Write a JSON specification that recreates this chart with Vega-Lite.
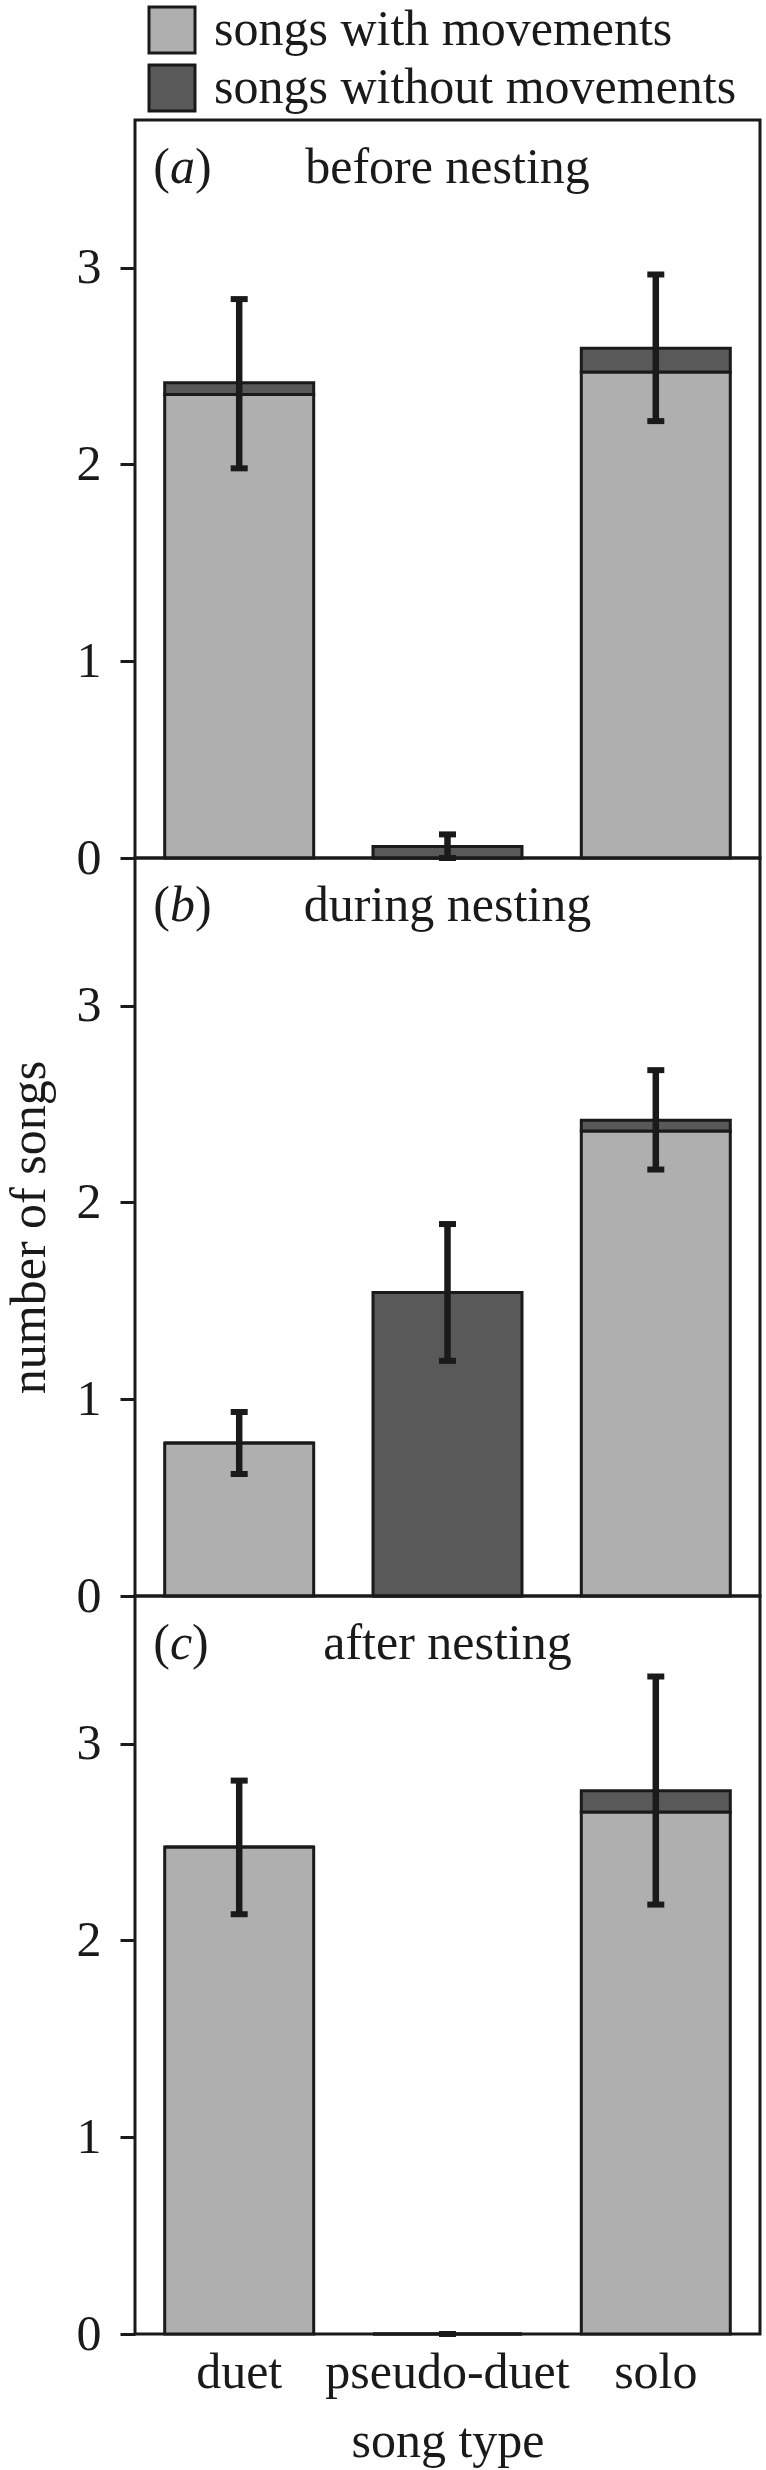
{
  "$schema": "https://vega.github.io/schema/vega-lite/v6.json",
  "padding": {"left": 2, "top": 5, "right": 0, "bottom": 0},
  "spacing": 0,
  "bounds": "flush",
  "config": {
    "font": "Liberation Serif",
    "view": {"stroke": "#1a1a1a", "strokeWidth": 3},
    "axis": {
      "labelFont": "Liberation Serif", "titleFont": "Liberation Serif",
      "labelFontSize": 50, "titleFontSize": 50,
      "labelColor": "#1a1a1a", "titleColor": "#1a1a1a",
      "titleFontWeight": "normal", "grid": false, "domain": false,
      "tickColor": "#1a1a1a", "tickWidth": 3, "tickSize": 15
    },
    "text": {"font": "Liberation Serif", "fontSize": 50, "color": "#1a1a1a"}
  },
  "datasets": {
    "bars": [
      {"panel": "a", "song": "duet", "type": "songs with movements", "value": 2.355},
      {"panel": "a", "song": "duet", "type": "songs without movements", "value": 0.06},
      {"panel": "a", "song": "pseudo-duet", "type": "songs with movements", "value": 0},
      {"panel": "a", "song": "pseudo-duet", "type": "songs without movements", "value": 0.059},
      {"panel": "a", "song": "solo", "type": "songs with movements", "value": 2.47},
      {"panel": "a", "song": "solo", "type": "songs without movements", "value": 0.12},
      {"panel": "b", "song": "duet", "type": "songs with movements", "value": 0.777},
      {"panel": "b", "song": "duet", "type": "songs without movements", "value": 0},
      {"panel": "b", "song": "pseudo-duet", "type": "songs with movements", "value": 0},
      {"panel": "b", "song": "pseudo-duet", "type": "songs without movements", "value": 1.542},
      {"panel": "b", "song": "solo", "type": "songs with movements", "value": 2.363},
      {"panel": "b", "song": "solo", "type": "songs without movements", "value": 0.054},
      {"panel": "c", "song": "duet", "type": "songs with movements", "value": 2.474},
      {"panel": "c", "song": "duet", "type": "songs without movements", "value": 0},
      {"panel": "c", "song": "pseudo-duet", "type": "songs with movements", "value": 0},
      {"panel": "c", "song": "pseudo-duet", "type": "songs without movements", "value": 0},
      {"panel": "c", "song": "solo", "type": "songs with movements", "value": 2.653},
      {"panel": "c", "song": "solo", "type": "songs without movements", "value": 0.107}
    ],
    "errs": [
      {"panel": "a", "song": "duet", "low": 1.98, "high": 2.84},
      {"panel": "a", "song": "pseudo-duet", "low": 0.0, "high": 0.12},
      {"panel": "a", "song": "solo", "low": 2.22, "high": 2.965},
      {"panel": "b", "song": "duet", "low": 0.62, "high": 0.935},
      {"panel": "b", "song": "pseudo-duet", "low": 1.195, "high": 1.89},
      {"panel": "b", "song": "solo", "low": 2.167, "high": 2.672},
      {"panel": "c", "song": "duet", "low": 2.133, "high": 2.812},
      {"panel": "c", "song": "pseudo-duet", "low": 0, "high": 0},
      {"panel": "c", "song": "solo", "low": 2.182, "high": 3.341}
    ],
    "labels": [
      {"panel": "a", "letter": "a", "phase": "before nesting"},
      {"panel": "b", "letter": "b", "phase": "during nesting"},
      {"panel": "c", "letter": "c", "phase": "after nesting"}
    ]
  },
  "vconcat": [
    {
      "width": 625, "height": 738,
      "encoding": {
        "x": {"field": "song", "type": "nominal", "sort": ["duet", "pseudo-duet", "solo"],
              "scale": {"domain": ["duet", "pseudo-duet", "solo"], "paddingInner": 0.2847, "paddingOuter": 0.1426},
              "axis": null}
      },
      "layer": [
        {
          "data": {"name": "bars"},
          "transform": [{"filter": "datum.panel === 'a'"}],
          "mark": {"type": "bar", "stroke": "#1a1a1a", "strokeWidth": 3},
          "encoding": {
            "y": {"field": "value", "type": "quantitative", "stack": "zero",
                  "scale": {"domain": [0, 3.75], "nice": false},
                  "axis": {"values": [0, 1, 2, 3], "format": "d", "title": null, "labelPadding": 19}},
            "color": {"field": "type", "type": "nominal",
                      "scale": {"domain": ["songs with movements", "songs without movements"], "range": ["#afafaf", "#595959"]},
                      "legend": {"orient": "none", "legendX": 12, "legendY": -115, "direction": "vertical", "title": null,
                                 "symbolType": "square", "symbolSize": 2116, "symbolStrokeColor": "#1a1a1a", "symbolStrokeWidth": 3,
                                 "symbolOpacity": 1, "labelFontSize": 50, "labelFont": "Liberation Serif", "labelColor": "#1a1a1a",
                                 "labelOffset": 17, "labelLimit": 0, "rowPadding": 0, "padding": 0}},
            "order": {"field": "type", "sort": "ascending"}
          }
        },
        {
          "data": {"name": "errs"},
          "transform": [{"filter": "datum.panel === 'a'"}],
          "mark": {"type": "rule", "strokeWidth": 6.5, "color": "#1a1a1a"},
          "encoding": {"y": {"field": "low", "type": "quantitative"}, "y2": {"field": "high"}}
        },
        {
          "data": {"name": "errs"},
          "transform": [{"filter": "datum.panel === 'a'"}],
          "mark": {"type": "tick", "size": 17, "thickness": 6, "color": "#1a1a1a", "opacity": 1},
          "encoding": {"y": {"field": "low", "type": "quantitative"}}
        },
        {
          "data": {"name": "errs"},
          "transform": [{"filter": "datum.panel === 'a'"}],
          "mark": {"type": "tick", "size": 17, "thickness": 6, "color": "#1a1a1a", "opacity": 1},
          "encoding": {"y": {"field": "high", "type": "quantitative"}}
        },
        {
          "data": {"name": "labels"},
          "transform": [{"filter": "datum.panel === 'a'"}],
          "mark": {"type": "text", "text": "(", "align": "left", "baseline": "alphabetic", "dx": -86},
          "encoding": {"x": {"datum": "duet", "type": "nominal", "axis": null}, "y": {"datum": 3.43, "type": "quantitative"}}
        },
        {
          "data": {"name": "labels"},
          "transform": [{"filter": "datum.panel === 'a'"}],
          "mark": {"type": "text", "fontStyle": "italic", "align": "left", "baseline": "alphabetic", "dx": -69.3},
          "encoding": {"x": {"datum": "duet", "type": "nominal", "axis": null}, "y": {"datum": 3.43, "type": "quantitative"}, "text": {"field": "letter"}}
        },
        {
          "data": {"name": "labels"},
          "transform": [{"filter": "datum.panel === 'a'"}],
          "mark": {"type": "text", "text": ")", "align": "left", "baseline": "alphabetic", "dx": -44.3},
          "encoding": {"x": {"datum": "duet", "type": "nominal", "axis": null}, "y": {"datum": 3.43, "type": "quantitative"}}
        },
        {
          "data": {"name": "labels"},
          "transform": [{"filter": "datum.panel === 'a'"}],
          "mark": {"type": "text", "align": "center", "baseline": "alphabetic"},
          "encoding": {"x": {"datum": "pseudo-duet", "type": "nominal", "axis": null}, "y": {"datum": 3.43, "type": "quantitative"}, "text": {"field": "phase"}}
        }
      ]
    },
    {
      "width": 625, "height": 738,
      "encoding": {
        "x": {"field": "song", "type": "nominal", "sort": ["duet", "pseudo-duet", "solo"],
              "scale": {"domain": ["duet", "pseudo-duet", "solo"], "paddingInner": 0.2847, "paddingOuter": 0.1426},
              "axis": null}
      },
      "layer": [
        {
          "data": {"name": "bars"},
          "transform": [{"filter": "datum.panel === 'b'"}],
          "mark": {"type": "bar", "stroke": "#1a1a1a", "strokeWidth": 3},
          "encoding": {
            "y": {"field": "value", "type": "quantitative", "stack": "zero",
                  "scale": {"domain": [0, 3.75], "nice": false},
                  "axis": {"values": [0, 1, 2, 3], "format": "d", "title": "number of songs", "labelPadding": 19, "titlePadding": 22}},
            "color": {"field": "type", "type": "nominal",
                      "scale": {"domain": ["songs with movements", "songs without movements"], "range": ["#afafaf", "#595959"]}},
            "order": {"field": "type", "sort": "ascending"}
          }
        },
        {
          "data": {"name": "errs"},
          "transform": [{"filter": "datum.panel === 'b'"}],
          "mark": {"type": "rule", "strokeWidth": 6.5, "color": "#1a1a1a"},
          "encoding": {"y": {"field": "low", "type": "quantitative"}, "y2": {"field": "high"}}
        },
        {
          "data": {"name": "errs"},
          "transform": [{"filter": "datum.panel === 'b'"}],
          "mark": {"type": "tick", "size": 17, "thickness": 6, "color": "#1a1a1a", "opacity": 1},
          "encoding": {"y": {"field": "low", "type": "quantitative"}}
        },
        {
          "data": {"name": "errs"},
          "transform": [{"filter": "datum.panel === 'b'"}],
          "mark": {"type": "tick", "size": 17, "thickness": 6, "color": "#1a1a1a", "opacity": 1},
          "encoding": {"y": {"field": "high", "type": "quantitative"}}
        },
        {
          "data": {"name": "labels"},
          "transform": [{"filter": "datum.panel === 'b'"}],
          "mark": {"type": "text", "text": "(", "align": "left", "baseline": "alphabetic", "dx": -86},
          "encoding": {"x": {"datum": "duet", "type": "nominal", "axis": null}, "y": {"datum": 3.43, "type": "quantitative"}}
        },
        {
          "data": {"name": "labels"},
          "transform": [{"filter": "datum.panel === 'b'"}],
          "mark": {"type": "text", "fontStyle": "italic", "align": "left", "baseline": "alphabetic", "dx": -69.3},
          "encoding": {"x": {"datum": "duet", "type": "nominal", "axis": null}, "y": {"datum": 3.43, "type": "quantitative"}, "text": {"field": "letter"}}
        },
        {
          "data": {"name": "labels"},
          "transform": [{"filter": "datum.panel === 'b'"}],
          "mark": {"type": "text", "text": ")", "align": "left", "baseline": "alphabetic", "dx": -44.3},
          "encoding": {"x": {"datum": "duet", "type": "nominal", "axis": null}, "y": {"datum": 3.43, "type": "quantitative"}}
        },
        {
          "data": {"name": "labels"},
          "transform": [{"filter": "datum.panel === 'b'"}],
          "mark": {"type": "text", "align": "center", "baseline": "alphabetic"},
          "encoding": {"x": {"datum": "pseudo-duet", "type": "nominal", "axis": null}, "y": {"datum": 3.43, "type": "quantitative"}, "text": {"field": "phase"}}
        }
      ]
    },
    {
      "width": 625, "height": 738,
      "layer": [
        {
          "data": {"name": "bars"},
          "transform": [{"filter": "datum.panel === 'c'"}],
          "mark": {"type": "bar", "stroke": "#1a1a1a", "strokeWidth": 3},
          "encoding": {
            "x": {"field": "song", "type": "nominal", "sort": ["duet", "pseudo-duet", "solo"],
                  "scale": {"domain": ["duet", "pseudo-duet", "solo"], "paddingInner": 0.2847, "paddingOuter": 0.1426},
                  "axis": {"title": "song type", "ticks": false, "labelPadding": 13, "labelAngle": 0, "titlePadding": 19, "labelOverlap": false, "labelLimit": 0}},
            "y": {"field": "value", "type": "quantitative", "stack": "zero",
                  "scale": {"domain": [0, 3.75], "nice": false},
                  "axis": {"values": [0, 1, 2, 3], "format": "d", "title": null, "labelPadding": 19}},
            "color": {"field": "type", "type": "nominal",
                      "scale": {"domain": ["songs with movements", "songs without movements"], "range": ["#afafaf", "#595959"]}},
            "order": {"field": "type", "sort": "ascending"}
          }
        },
        {
          "data": {"name": "errs"},
          "transform": [{"filter": "datum.panel === 'c'"}],
          "mark": {"type": "rule", "strokeWidth": 6.5, "color": "#1a1a1a"},
          "encoding": {"x": {"field": "song", "type": "nominal", "title": "song type"}, "y": {"field": "low", "type": "quantitative"}, "y2": {"field": "high"}}
        },
        {
          "data": {"name": "errs"},
          "transform": [{"filter": "datum.panel === 'c'"}],
          "mark": {"type": "tick", "size": 17, "thickness": 6, "color": "#1a1a1a", "opacity": 1},
          "encoding": {"x": {"field": "song", "type": "nominal", "title": "song type"}, "y": {"field": "low", "type": "quantitative"}}
        },
        {
          "data": {"name": "errs"},
          "transform": [{"filter": "datum.panel === 'c'"}],
          "mark": {"type": "tick", "size": 17, "thickness": 6, "color": "#1a1a1a", "opacity": 1},
          "encoding": {"x": {"field": "song", "type": "nominal", "title": "song type"}, "y": {"field": "high", "type": "quantitative"}}
        },
        {
          "data": {"name": "labels"},
          "transform": [{"filter": "datum.panel === 'c'"}],
          "mark": {"type": "text", "text": "(", "align": "left", "baseline": "alphabetic", "dx": -86},
          "encoding": {"x": {"datum": "duet", "type": "nominal", "title": "song type"}, "y": {"datum": 3.43, "type": "quantitative"}}
        },
        {
          "data": {"name": "labels"},
          "transform": [{"filter": "datum.panel === 'c'"}],
          "mark": {"type": "text", "fontStyle": "italic", "align": "left", "baseline": "alphabetic", "dx": -69.3},
          "encoding": {"x": {"datum": "duet", "type": "nominal", "title": "song type"}, "y": {"datum": 3.43, "type": "quantitative"}, "text": {"field": "letter"}}
        },
        {
          "data": {"name": "labels"},
          "transform": [{"filter": "datum.panel === 'c'"}],
          "mark": {"type": "text", "text": ")", "align": "left", "baseline": "alphabetic", "dx": -47.1},
          "encoding": {"x": {"datum": "duet", "type": "nominal", "title": "song type"}, "y": {"datum": 3.43, "type": "quantitative"}}
        },
        {
          "data": {"name": "labels"},
          "transform": [{"filter": "datum.panel === 'c'"}],
          "mark": {"type": "text", "align": "center", "baseline": "alphabetic"},
          "encoding": {"x": {"datum": "pseudo-duet", "type": "nominal", "title": "song type"}, "y": {"datum": 3.43, "type": "quantitative"}, "text": {"field": "phase"}}
        }
      ]
    }
  ]
}
